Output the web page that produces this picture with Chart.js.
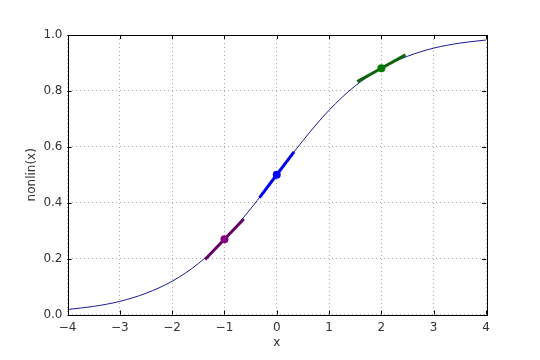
<!DOCTYPE html>
<html>
<head>
<meta charset="utf-8">
<script src="https://cdn.jsdelivr.net/npm/chart.js@4"></script>
<style>
  html, body { margin: 0; padding: 0; background: #fff; }
  #wrap { width: 540px; height: 360px; }
</style>
</head>
<body>
<div id="wrap"><canvas id="chart"></canvas></div>
<script>
// curve nonlin(x)
var curveX = [-4, -3.5, -3, -2.5, -2, -1.5, -1, -0.5, 0, 0.5, 1, 1.5, 2, 2.5, 3, 3.5, 4];
var curveY = [0.018, 0.029, 0.047, 0.076, 0.119, 0.182, 0.269, 0.378, 0.5,
              0.622, 0.731, 0.818, 0.881, 0.924, 0.953, 0.971, 0.982];

// tangent segments: start, touch point, end
var tanPurpleX = [-1.37, -1, -0.63];
var tanPurpleY = [0.197, 0.269, 0.342];
var tanBlueX = [-0.33, 0, 0.33];
var tanBlueY = [0.418, 0.5, 0.582];
var tanGreenX = [1.54, 2, 2.46];
var tanGreenY = [0.833, 0.881, 0.929];

var xTicks = [-4, -3, -2, -1, 0, 1, 2, 3, 4];
var yTicks = [0.0, 0.2, 0.4, 0.6, 0.8, 1.0];

function toPoints(xs, ys) {
    return xs.map(function(x, i) { return { x: x, y: ys[i] }; });
}

function tangent(xs, ys, lineCol, dotCol) {
    return {
        data: toPoints(xs, ys),
        borderColor: lineCol,
        borderWidth: 3,
        pointRadius: [0, 4, 0],
        pointBackgroundColor: dotCol,
        pointBorderColor: dotCol,
        pointBorderWidth: 0,
        order: 1
    };
}

// matplotlib style: ticks pointing inwards on all four sides, plus a frame
var frameTicks = {
    id: 'frameTicks',
    afterDraw: function(chart) {
        let ctx = chart.ctx;
        let a = chart.chartArea;
        let sx = chart.scales.x, sy = chart.scales.y;
        ctx.save();
        ctx.strokeStyle = '#000';
        ctx.lineWidth = 1;
        ctx.beginPath();
        xTicks.forEach(function(v) {
            let px = Math.round(sx.getPixelForValue(v)) + 0.5;
            ctx.moveTo(px, a.bottom); ctx.lineTo(px, a.bottom - 4);
            ctx.moveTo(px, a.top); ctx.lineTo(px, a.top + 4);
        });
        yTicks.forEach(function(v) {
            let py = Math.round(sy.getPixelForValue(v)) + 0.5;
            ctx.moveTo(a.left, py); ctx.lineTo(a.left + 4, py);
            ctx.moveTo(a.right, py); ctx.lineTo(a.right - 4, py);
        });
        ctx.stroke();
        ctx.strokeRect(Math.round(a.left) + 0.5, Math.round(a.top) + 0.5,
                       Math.round(a.right - a.left), Math.round(a.bottom - a.top));
        ctx.restore();
    }
};

var font = { family: 'DejaVu Sans', size: 12 };

new Chart(document.getElementById('chart'), {
    type: 'line',
    data: {
        datasets: [
            tangent(tanPurpleX, tanPurpleY, '#660066', '#800080'),
            tangent(tanBlueX, tanBlueY, '#0000ee', '#0000ff'),
            tangent(tanGreenX, tanGreenY, '#0b650b', '#007a00'),
            {
                data: toPoints(curveX, curveY),
                borderColor: '#1a1a9a',
                borderWidth: 1,
                pointRadius: 0,
                cubicInterpolationMode: 'monotone',
                order: 10
            }
        ]
    },
    plugins: [frameTicks],
    options: {
        responsive: true,
        maintainAspectRatio: false,
        animation: false,
        layout: { padding: { top: 35, right: 54, left: 0, bottom: 0 } },
        plugins: { legend: { display: false }, tooltip: { enabled: false } },
        scales: {
            x: {
                type: 'linear',
                min: -4, max: 4,
                afterBuildTicks: function(s) { s.ticks = xTicks.map(function(v) { return { value: v }; }); },
                afterFit: function(s) { s.height = 45.5; },
                border: { display: false, dash: [1, 3] },
                grid: { color: '#aaa', drawTicks: false },
                ticks: {
                    font: font, color: '#333', padding: 6, maxRotation: 0,
                    callback: function(v) { return String(v).replace('-', '\u2212'); }
                },
                title: { display: true, text: 'x', font: font, color: '#333', padding: { top: 2, bottom: 10 } }
            },
            y: {
                min: 0, max: 1,
                afterBuildTicks: function(s) { s.ticks = yTicks.map(function(v) { return { value: v }; }); },
                afterFit: function(s) { s.width = 67.5; },
                border: { display: false, dash: [1, 3] },
                grid: { color: '#aaa', drawTicks: false },
                ticks: {
                    font: font, color: '#333', padding: 5,
                    callback: function(v) { return v.toFixed(1); }
                },
                title: { display: true, text: 'nonlin(x)', font: font, color: '#333', padding: { top: 25, bottom: 0 } }
            }
        }
    }
});
</script>
</body>
</html>
